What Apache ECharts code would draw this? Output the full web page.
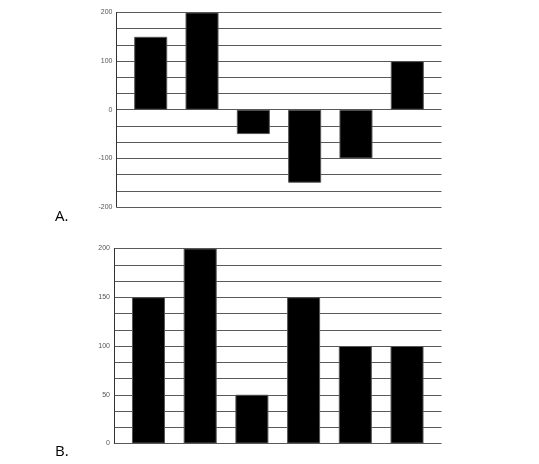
<!DOCTYPE html>
<html><head><meta charset="utf-8">
<script src="https://cdn.jsdelivr.net/npm/echarts@6/dist/echarts.min.js"></script>
<style>html,body{margin:0;padding:0;background:#fff}#c{width:539px;height:464px}</style>
</head><body><div id="c"></div>
<script>
var positions = [1, 2, 3, 4, 5, 6];
var valuesA = [150, 200, -50, -150, -100, 100];
var valuesB = [150, 200, 50, 150, 100, 100];
var panelLabels = ['A.', 'B.'];

function pairs(v){ return v.map(function(y,i){ return [positions[i], y]; }); }
function labelEvery(step){
  return function(v){ return Math.abs(v - Math.round(v/step)*step) < 1e-6 ? String(Math.round(v)) : ''; };
}
var chart = echarts.init(document.getElementById('c'), null, {renderer:'canvas'});
var yCommon = {
  type:'value',
  axisLine:{show:true, lineStyle:{color:'#333', width:1}},
  axisTick:{show:false},
  splitLine:{show:true, lineStyle:{color:'#5a5a5a', width:1}},
  axisLabel:{color:'#555', fontSize:7, fontFamily:'Liberation Sans, Arial, sans-serif', margin:4}
};
var xCommon = {type:'value', min:1/3, max:20/3, show:false};
chart.setOption({
  animation:false,
  graphic:[
    {type:'text', left:55, top:209, style:{text:panelLabels[0], font:'15px "Open Sans", sans-serif', fill:'#000'}},
    {type:'text', left:55, top:444.5, style:{text:panelLabels[1], font:'15px "Open Sans", sans-serif', fill:'#000'}}
  ],
  grid:[
    {left:116.5, width:325, top:12.5, height:194.5},
    {left:114, width:327.5, top:248.5, height:195}
  ],
  xAxis:[
    Object.assign({gridIndex:0}, xCommon),
    Object.assign({gridIndex:1}, xCommon)
  ],
  yAxis:[
    Object.assign({}, yCommon, {gridIndex:0, min:-200, max:200, interval:100/3,
      axisLabel:Object.assign({}, yCommon.axisLabel, {formatter:labelEvery(100)})}),
    Object.assign({}, yCommon, {gridIndex:1, min:0, max:200, interval:50/3,
      axisLabel:Object.assign({}, yCommon.axisLabel, {formatter:labelEvery(50)})})
  ],
  series:[
    {type:'bar', xAxisIndex:0, yAxisIndex:0, data:pairs(valuesA), barWidth:33,
     itemStyle:{color:'#000', borderColor:'#555', borderWidth:1}},
    {type:'bar', xAxisIndex:1, yAxisIndex:1, data:pairs(valuesB), barWidth:33,
     itemStyle:{color:'#000', borderColor:'#555', borderWidth:1}}
  ]
});
</script></body></html>
